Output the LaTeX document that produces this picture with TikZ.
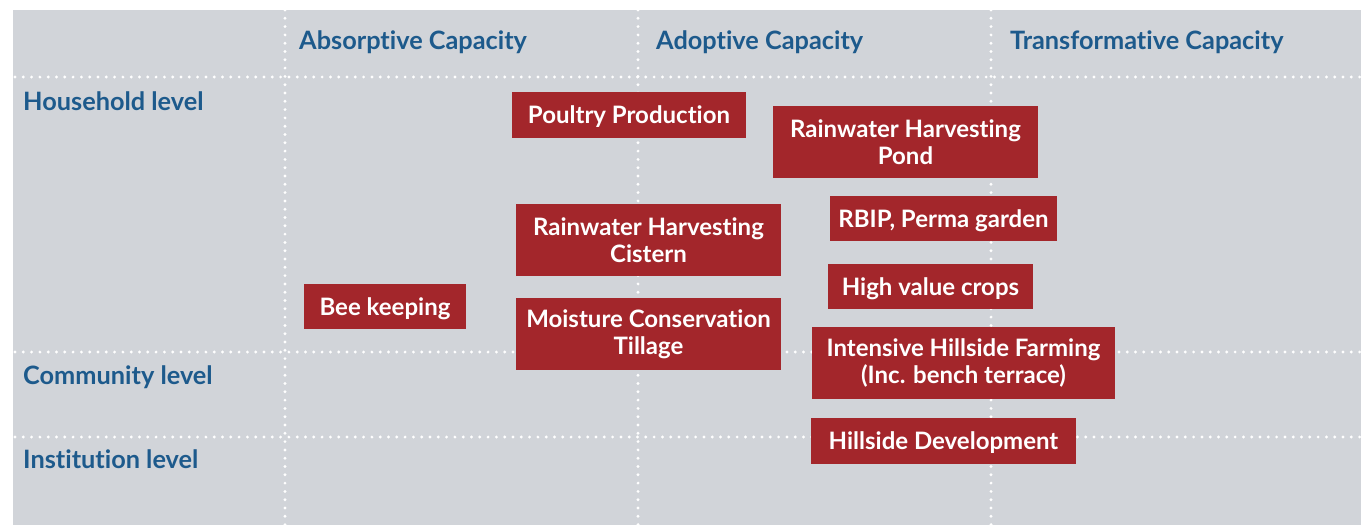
\documentclass[tikz,border=0pt]{standalone}
\usepackage{fontspec}
\setmainfont{Lato}[UprightFont=* Bold,RawFeature={-liga;-dlig}]
\definecolor{bggray}{HTML}{D1D4D9}
\definecolor{hdblue}{HTML}{1D5A8C}
\definecolor{boxred}{HTML}{A3262B}
\begin{document}
\begin{tikzpicture}[x=1pt,y=-1pt,
  grid/.style={white,line width=3.2pt,line cap=round,dash pattern=on 0pt off 8.3pt},
  hdr/.style={anchor=base west,text=hdblue,font=\fontsize{25.3}{28}\selectfont,inner sep=0pt},
  act/.style={fill=boxred,text=white,inner sep=0pt,align=center,font=\fontsize{24}{27}\selectfont},
  oneline/.style={text height=17.3pt,text depth=0pt}]
\useasboundingbox (0,0) rectangle (1361,525);
\fill[bggray] (13,10) rectangle (1361,525);
% grid
\coordinate (v1t) at (285,10); \coordinate (v1b) at (285,525);
\coordinate (v2t) at (638,10); \coordinate (v2b) at (638,525);
\coordinate (v3t) at (991,10); \coordinate (v3b) at (991,525);
\coordinate (h1l) at (15,77); \coordinate (h1r) at (1361,77);
\coordinate (h2l) at (15,352); \coordinate (h2r) at (1361,352);
\coordinate (h3l) at (15,437); \coordinate (h3r) at (1361,437);
\draw[grid] (v1t) -- (v1b);
\draw[grid] (v2t) -- (v2b);
\draw[grid] (v3t) -- (v3b);
\draw[grid] (h1l) -- (h1r);
\draw[grid] (h2l) -- (h2r);
\draw[grid] (h3l) -- (h3r);
% headers
\node[hdr] (absorb) at (299,49) {Absorptive Capacity};
\node[hdr] (adopt) at (656,49) {Adoptive Capacity};
\node[hdr] (transf) at (1010,49) {Transformative Capacity};
\node[hdr] (house) at (23,110) {Household level};
\node[hdr] (comm) at (23,384) {Community level};
\node[hdr] (inst) at (23,468) {Institution level};
% activity boxes
\node[act,oneline,minimum width=234pt,minimum height=46pt] (poultry) at (629,115) {Poultry Production};
\node[act,minimum width=265pt,minimum height=72pt] (pond) at (905.5,142) {Rainwater Harvesting\\Pond};
\node[act,oneline,minimum width=227pt,minimum height=45pt] (rbip) at (943.5,218.5) {RBIP, Perma garden};
\node[act,minimum width=265pt,minimum height=72pt] (cistern) at (648.5,240) {Rainwater Harvesting\\Cistern};
\node[act,oneline,minimum width=205pt,minimum height=45pt] (hvc) at (930.5,286.5) {High value crops};
\node[act,oneline,minimum width=162pt,minimum height=45pt] (bee) at (385,306.5) {Bee keeping};
\node[act,minimum width=265pt,minimum height=72pt] (moist) at (648.5,334) {Moisture Conservation\\Tillage};
\node[act,minimum width=303pt,minimum height=72pt] (ihf) at (963.5,363) {Intensive Hillside Farming\\(Inc. bench terrace)};
\node[act,oneline,minimum width=265pt,minimum height=46pt] (hdev) at (943.5,440.5) {Hillside Development};
\end{tikzpicture}
\end{document}
